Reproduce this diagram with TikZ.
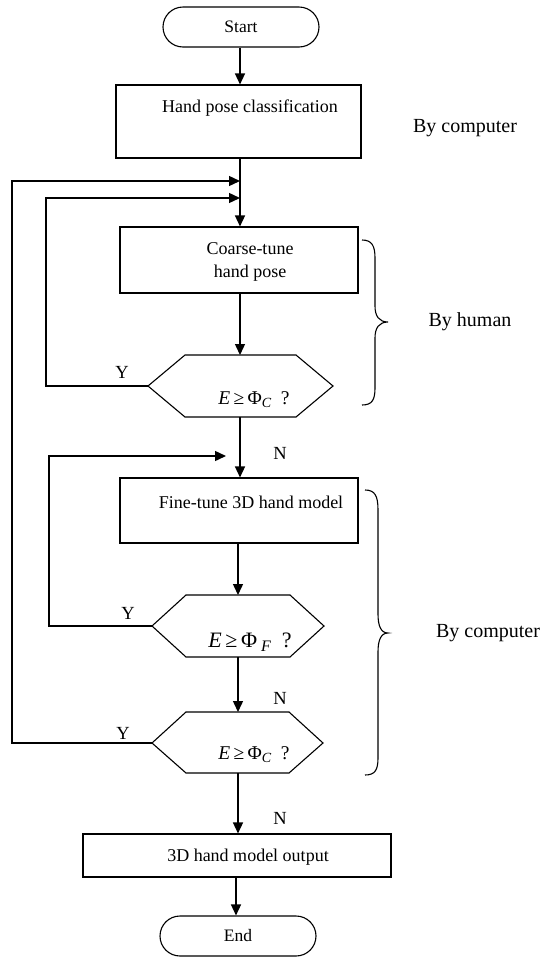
\documentclass[tikz,border=0pt]{standalone}
\usepackage{fontspec}
\setmainfont{Liberation Serif}
\usetikzlibrary{arrows.meta}
\tikzset{
  shp/.style={draw, line width=1.1pt},
  boxnode/.style={shp, rectangle, inner sep=0pt},
  pill/.style={shp, rectangle, rounded corners=20pt, inner sep=0pt, minimum width=156pt, minimum height=40pt, font=\fontsize{17.5}{20}\selectfont},
  arr/.style={line width=1.4pt, -{Triangle[length=11pt,width=10pt]}},
  ln/.style={line width=1.1pt},
  txt/.style={inner sep=0pt, font=\fontsize{18}{22}\selectfont},
  lbl/.style={inner sep=0pt, font=\fontsize{18.5}{22}\selectfont},
  side/.style={inner sep=0pt, font=\fontsize{20}{24}\selectfont},
}
\newcommand{\condtext}[1]{{\itshape E}\,≥\,Φ\raisebox{-0.35ex}{\fontsize{14}{16}\selectfont\itshape #1}\ \ ?}
\begin{document}
\begin{tikzpicture}[x=1pt,y=-1pt]
\useasboundingbox (0,0) rectangle (558,959);
% nodes
\node[pill] (start) at (241,27) {Start};
\node[boxnode, minimum width=245pt, minimum height=73pt] (hpc) at (238.5,121.5) {};
\node[txt] (hpct) at (250,108) {Hand pose classification};
\node[side] (bc1) at (465,128) {By computer};

\node[boxnode, minimum width=238pt, minimum height=66pt] (coarse) at (239,260) {};
\node[txt] (coarset1) at (250,249) {Coarse-tune};
\node[txt] (coarset2) at (250,273) {hand pose};

% hexagon 1
\coordinate (h1n) at (240,355);
\coordinate (h1s) at (240,417);
\coordinate (h1w) at (148,386);
\draw[shp] (h1w) -- (185,355) -- (296,355) -- (333,386) -- (296,417) -- (185,417) -- cycle;
\node[txt, font=\fontsize{19.5}{22}\selectfont] (h1t) at (254,400) {\condtext{C}};
\node[lbl] (y1) at (122,372) {Y};

\node[side] (bh) at (470,322) {By human};

\node[boxnode, minimum width=238pt, minimum height=65pt] (fine) at (239,510.5) {};
\node[txt] (finet) at (251,502) {Fine-tune 3D hand model};
\node[lbl] (n1) at (280,453) {N};

% hexagon 2
\coordinate (h2n) at (238,595);
\coordinate (h2s) at (238,657);
\coordinate (h2w) at (152,626);
\draw[shp] (h2w) -- (186,595) -- (290,595) -- (324,626) -- (290,657) -- (186,657) -- cycle;
\node[txt, font=\fontsize{22}{24}\selectfont] (h2t) at (250,642) {{\itshape E}\,≥\,Φ\raisebox{-0.4ex}{\fontsize{16}{18}\selectfont\itshape\ F}\ \ ?};
\node[lbl] (y2) at (128,613) {Y};
\node[lbl] (n2) at (280,698) {N};

% hexagon 3
\coordinate (h3n) at (238,712);
\coordinate (h3s) at (238,773);
\coordinate (h3w) at (152,743);
\draw[shp] (h3w) -- (186,712) -- (289,712) -- (323,743) -- (289,773) -- (186,773) -- cycle;
\node[txt, font=\fontsize{19.5}{22}\selectfont] (h3t) at (254,755) {\condtext{C}};
\node[lbl] (y3) at (123,733) {Y};
\node[lbl] (n3) at (280,818) {N};

\node[side] (bc2) at (488,633) {By computer};

\node[boxnode, minimum width=308pt, minimum height=43pt] (out) at (237,855.5) {};
\node[txt] (outt) at (248,857) {3D hand model output};

\node[pill] (end) at (238,936) {End};

% braces
\draw[ln] (362,240) .. controls (372,240) and (375,246) .. (375,258)
  -- (375,306) .. controls (375,316) and (379,322) .. (388,322)
  .. controls (379,322) and (375,328) .. (375,338)
  -- (375,388) .. controls (375,400) and (372,405) .. (362,405);
\draw[ln] (365,490) .. controls (375,490) and (378,496) .. (378,510)
  -- (378,614) .. controls (378,626) and (381,633) .. (388,633)
  .. controls (381,633) and (378,640) .. (378,652)
  -- (378,758) .. controls (378,770) and (375,775) .. (365,775);

% merge points
\coordinate (m1) at (240,181);
\coordinate (m2) at (240,198);
\coordinate (m3) at (226,456);

% connectors
\draw[arr] (start.south -| m1) -- (hpc.north -| m1);
\draw[arr] (hpc.south -| m1) -- (coarse.north -| m1);
\draw[arr] (coarse.south -| h1n) -- (h1n);
\draw[arr] (h1s) -- (fine.north -| h1s);
\draw[arr] (fine.south -| h2n) -- (h2n);
\draw[arr] (h2s) -- (h3n);
\draw[arr] (h3s) -- (out.north -| h3s);
\draw[arr] (out.south -| 236,0) -- (end.north -| 236,0);
% loops
\draw[arr] (h1w) -- (46,386) |- (m2);
\draw[arr] (h2w) -- (49,626) |- (m3);
\draw[arr] (h3w) -- (12,743) |- (m1);
\end{tikzpicture}
\end{document}
